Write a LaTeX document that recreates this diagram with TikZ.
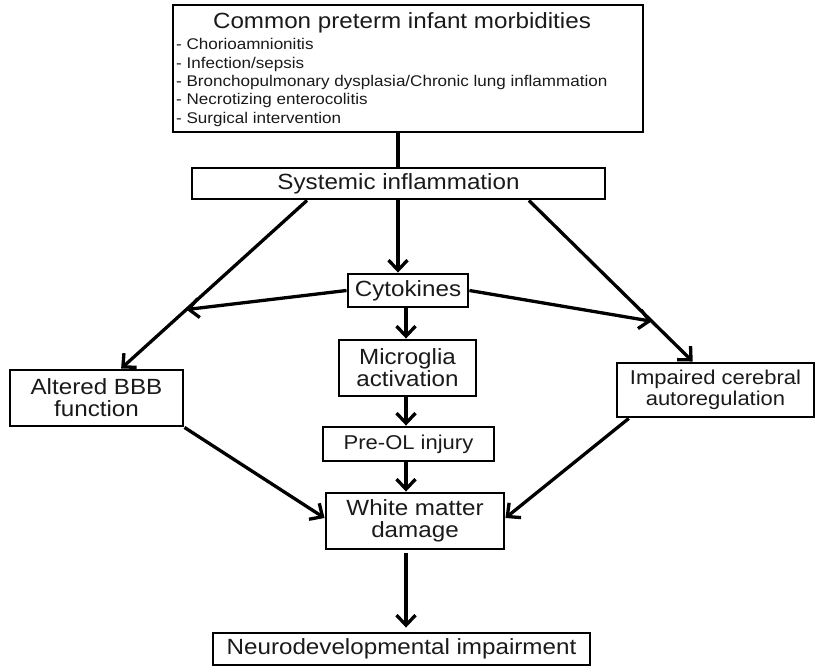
\documentclass[tikz,border=0pt]{standalone}
\usepackage{fontspec}
\setmainfont[FakeStretch=1.1]{Liberation Sans}
\usetikzlibrary{arrows.meta,calc}
\definecolor{ink}{HTML}{1A1A1A}

\tikzset{
  box/.style={draw=black, line width=2.9pt, inner sep=0pt, align=center,
    text=ink, font=\fontsize{22}{22}\selectfont},
  smalltext/.style={font=\fontsize{20}{21}\selectfont},
  plainline/.style={line width=3.3pt},
  link/.style={line width=3.3pt,
    -{Straight Barb[length=10pt,width=19pt,line width=3.3pt]}}
}

\begin{document}
\begin{tikzpicture}[x=1pt,y=-1pt]
\useasboundingbox (0,0) rectangle (817,666);

% boxes
\node[box, minimum width=470, minimum height=127] (top) at (408,68.5) {};
\node[text=ink, font=\fontsize{22}{22}\selectfont, inner sep=0pt] (title) at (402,23)
  {Common preterm infant morbidities};
\node[text=ink, font=\fontsize{15.5}{18.3}\selectfont, inner sep=0pt, align=left,
  anchor=north west] (list) at (176,38.5)
  {- Chorioamnionitis\\
   - Infection/sepsis\\
   - Bronchopulmonary dysplasia/Chronic lung inflammation\\
   - Necrotizing enterocolitis\\
   - Surgical intervention};

\node[box, minimum width=413, minimum height=31] (sys) at (398.5,183.5) {Systemic inflammation};
\node[box, minimum width=120, minimum height=33] (cyt) at (408,290.5) {Cytokines};
\node[box, minimum width=137, minimum height=56] (mic) at (407.5,368) {Microglia\\activation};
\node[box, smalltext, minimum width=171, minimum height=34] (pre) at (408.5,444) {Pre-OL injury};
\node[box, minimum width=178, minimum height=56] (wm) at (415,521) {White matter\\damage};
\node[box, minimum width=377, minimum height=32] (neuro) at (401.5,649) {Neurodevelopmental impairment};
\node[box, minimum width=173, minimum height=56] (bbb) at (96.5,398) {Altered BBB\\function};
\node[box, smalltext, minimum width=197, minimum height=54] (imp) at (715.5,390) {Impaired cerebral\\autoregulation};

% connector end points
\coordinate (sl) at ($(sys.south west)!0.28!(sys.south east)$);
\coordinate (sr) at ($(sys.south west)!0.8136!(sys.south east)$);
\coordinate (bt) at ($(bbb.north west)!0.64!(bbb.north east)$);
\coordinate (it) at ($(imp.north west)!0.386!(imp.north east)$);
\coordinate (jl) at ($(sl)!0.649!(bt)$);
\coordinate (jr) at ($(sr)!0.75!(it)$);
\coordinate (ib) at ($(imp.south west)!0.066!(imp.south east)$);
\coordinate (cx) at (398,0);
\coordinate (mx) at (406,0);

% connectors
\draw[plainline] (cx |- top.south) -- (cx |- sys.north);
\draw[link] (cx |- sys.south) -- (cx |- cyt.north);
\draw[link] (sl) -- (bt);
\draw[link] (sr) -- (it);
\draw[link] (cyt.west) -- (jl);
\draw[link] (cyt.east) -- (jr);
\draw[link] (mx |- cyt.south) -- (mx |- mic.north);
\draw[link] (mx |- mic.south) -- (mx |- pre.north);
\draw[link] (mx |- pre.south) -- (mx |- wm.north);
\draw[link, shorten <=3pt, shorten >=4pt] (mx |- wm.south) -- (mx |- neuro.north);
\draw[link] (bbb.south east) -- ($(wm.west)+(0,-3)$);
\draw[link] (ib) -- ($(wm.east)+(0,-3)$);
\end{tikzpicture}
\end{document}
